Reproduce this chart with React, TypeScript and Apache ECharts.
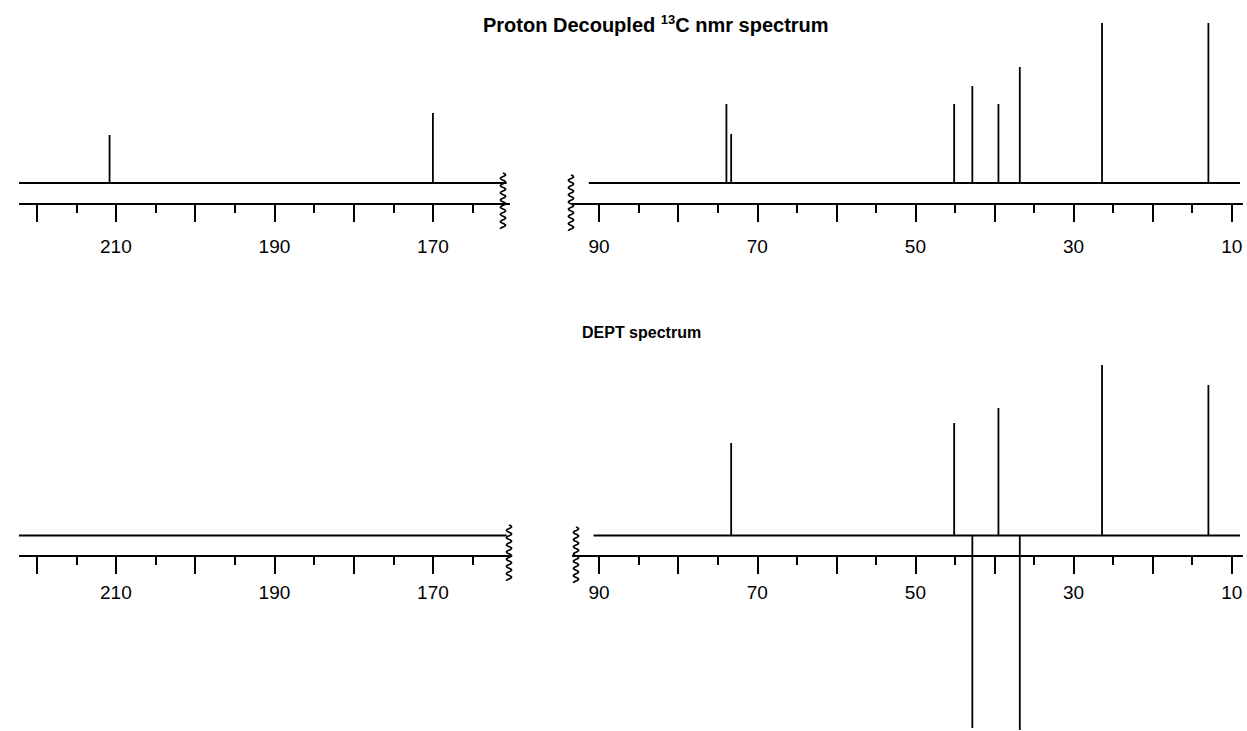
import React, { useEffect, useRef } from "react";
import * as echarts from "echarts";

// Proton decoupled 13C spectrum: chemical shift (ppm) and relative intensity
const protonShifts = [210.8, 170.0, 73.9, 73.3, 45.1, 42.8, 39.5, 36.8, 26.4, 12.95];
const protonIntensity = [48, 70, 79, 49, 79, 97, 79, 116, 160, 160];

// DEPT spectrum (negative = CH2)
const deptShifts = [73.3, 45.1, 42.8, 39.5, 36.8, 26.4, 12.95];
const deptIntensity = [92.5, 112.5, -192.5, 127.5, -194.5, 170.5, 150.5];

// axis ticks
const leftMajorTicks = [220, 210, 200, 190, 180, 170];
const leftMinorTicks = [215, 205, 195, 185, 175, 165];
const leftLabels = [210, 190, 170];
const rightMajorTicks = [90, 80, 70, 60, 50, 40, 30, 20, 10];
const rightMinorTicks = [85, 75, 65, 55, 45, 35, 25, 15];
const rightLabels = [90, 70, 50, 30, 10];

const titles = ["Proton Decoupled ", "13", "C nmr spectrum", "DEPT spectrum"];

const FONT = "'Liberation Sans', Arial, Helvetica, sans-serif";
const BREAK_PPM = 150;

function pairs(xs: number[], ys: number[], keep: (x: number) => boolean) {
  const out: number[][] = [];
  xs.forEach((x, i) => {
    if (keep(x)) out.push([x, ys[i]]);
  });
  return out;
}

function squiggle(cx: number, y0: number, y1: number) {
  const pts: number[][] = [];
  const period = 7.2;
  const amp = 2.6;
  for (let y = y0; y <= y1; y += 0.5) {
    pts.push([cx + amp * Math.sin(((y - y0) / period) * Math.PI * 2), y]);
  }
  return {
    type: "polyline",
    shape: { points: pts },
    style: { stroke: "#000", lineWidth: 1.6, fill: null },
    silent: true,
  };
}

export default function App() {
  const ref = useRef<HTMLDivElement>(null);

  useEffect(() => {
    if (!ref.current) return;
    const chart = echarts.init(ref.current, null, { renderer: "svg" });

    const grids = [
      { left: 20, right: 1247 - 509, top: 23, bottom: 731 - 204 },
      { left: 573, right: 1247 - 1242, top: 23, bottom: 731 - 204 },
      { left: 20, right: 1247 - 509, top: 365, bottom: 731 - 556 },
      { left: 573, right: 1247 - 1242, top: 365, bottom: 731 - 556 },
    ];
    const leftRange = { min: 160.4, max: 222.1 };
    const rightRange = { min: 8.7, max: 93.3 };

    const xAxes: any[] = [];
    const yAxes: any[] = [];
    grids.forEach((g, gi) => {
      const isLeft = gi % 2 === 0;
      const range = isLeft ? leftRange : rightRange;
      const base = {
        type: "value",
        gridIndex: gi,
        inverse: true,
        min: range.min,
        max: range.max,
        position: "bottom",
        splitLine: { show: false },
        axisLine: { show: true, onZero: false, lineStyle: { color: "#000", width: 2 } },
      };
      // major ticks + labels
      xAxes.push({
        ...base,
        axisTick: {
          show: true,
          length: 18,
          customValues: isLeft ? leftMajorTicks : rightMajorTicks,
          lineStyle: { color: "#000", width: 2 },
        },
        axisLabel: {
          show: true,
          customValues: isLeft ? leftLabels : rightLabels,
          margin: gi < 2 ? 33 : 27,
          color: "#000",
          fontFamily: FONT,
          fontSize: 19,
        },
      });
      // minor ticks
      xAxes.push({
        ...base,
        axisTick: {
          show: true,
          length: 9,
          customValues: isLeft ? leftMinorTicks : rightMinorTicks,
          lineStyle: { color: "#000", width: 2 },
        },
        axisLabel: { show: false },
      });
      yAxes.push({
        type: "value",
        gridIndex: gi,
        show: false,
        min: gi < 2 ? -21 : -20.5,
        max: gi < 2 ? 160 : 170.5,
      });
    });

    const peakRender = (params: any, api: any) => {
      const x = api.value(0);
      const h = api.value(1);
      const p0 = api.coord([x, 0]);
      const p1 = api.coord([x, h]);
      return {
        type: "line",
        shape: { x1: p0[0], y1: p0[1], x2: p1[0], y2: p1[1] },
        style: { stroke: "#000", lineWidth: 1.8 },
      };
    };

    const baselines = [
      [223.1, 160.7],
      [91.3, 8.95],
      [223.1, 160.7],
      [90.7, 8.95],
    ];

    const peakSets = [
      pairs(protonShifts, protonIntensity, (x) => x > BREAK_PPM),
      pairs(protonShifts, protonIntensity, (x) => x < BREAK_PPM),
      pairs(deptShifts, deptIntensity, (x) => x > BREAK_PPM),
      pairs(deptShifts, deptIntensity, (x) => x < BREAK_PPM),
    ];

    const series: any[] = [];
    grids.forEach((g, gi) => {
      series.push({
        type: "line",
        xAxisIndex: gi * 2,
        yAxisIndex: gi,
        data: [
          [baselines[gi][0], 0],
          [baselines[gi][1], 0],
        ],
        symbol: "none",
        clip: false,
        lineStyle: { color: "#000", width: 2 },
        silent: true,
      });
      series.push({
        type: "custom",
        xAxisIndex: gi * 2,
        yAxisIndex: gi,
        clip: false,
        data: peakSets[gi],
        renderItem: peakRender,
        silent: true,
      });
    });

    chart.setOption({
      animation: false,
      backgroundColor: "#fff",
      title: [
        {
          left: 483,
          top: 13,
          padding: 0,
          text: `{b|${titles[0]}}{s|${titles[1]}}{b|${titles[2]}}`,
          textStyle: {
            rich: {
              b: { fontFamily: FONT, fontSize: 20, fontWeight: "bold", color: "#000", lineHeight: 24 },
              s: {
                fontFamily: FONT,
                fontSize: 13,
                fontWeight: "bold",
                color: "#000",
                lineHeight: 24,
                verticalAlign: "top",
              },
            },
          },
        },
        {
          left: 582,
          top: 322,
          padding: 0,
          text: titles[3],
          textStyle: { fontFamily: FONT, fontSize: 16, fontWeight: "bold", color: "#000", lineHeight: 20 },
        },
      ],
      grid: grids,
      xAxis: xAxes,
      yAxis: yAxes,
      series,
      graphic: [
        squiggle(503, 173, 229),
        squiggle(571, 175, 231),
        squiggle(509, 525, 581),
        squiggle(576, 527, 583),
      ],
    });

    return () => chart.dispose();
  }, []);

  return (
    <div
      ref={ref}
      style={{ position: "fixed", left: 0, top: 0, width: 1247, height: 731, background: "#fff" }}
    />
  );
}
